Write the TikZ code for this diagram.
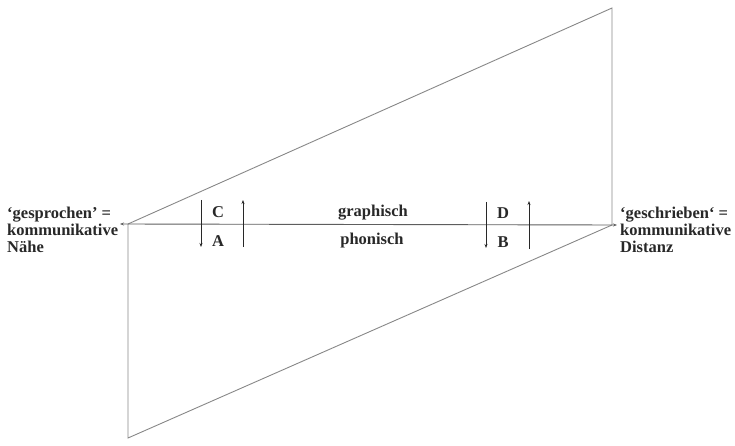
\documentclass[tikz,border=0pt]{standalone}
\usepackage{fontspec}
\setmainfont{Liberation Serif}
\usetikzlibrary{arrows.meta}
\definecolor{linegray}{RGB}{135,135,135}
\definecolor{ink}{RGB}{40,40,40}
\tikzset{
  frame/.style={draw=linegray, line width=0.9pt},
  axis/.style={draw=ink!75, line width=0.9pt, {Stealth[length=4pt,width=3pt]}-{Stealth[length=4pt,width=3pt]}},
  vdown/.style={draw=ink, line width=0.8pt, -{Stealth[length=4pt,width=3pt]}},
  vup/.style={draw=ink, line width=0.8pt, -{Stealth[length=4pt,width=3pt]}},
  lbl/.style={text=ink, font=\fontsize{16.5}{17}\selectfont\bfseries, inner sep=0pt},
  side/.style={lbl, align=left, anchor=west}
}
\begin{document}
\begin{tikzpicture}[x=1pt,y=-1pt]
\useasboundingbox (0,0) rectangle (735,446);
% corners
\coordinate (L) at (128,224);
\coordinate (R) at (612,225);
\coordinate (TR) at (612,8);
\coordinate (BL) at (128,438);
\coordinate (Ltip) at (120,224);
\coordinate (Rtip) at (617,225);
% frame
\draw[frame] (L) -- (TR) -- (R);
\draw[frame] (L) -- (BL) -- (R);
% axis
\draw[axis] (Ltip) -- (Rtip);
% vertical arrows
\coordinate (a1t) at (201,200); \coordinate (a1b) at (201,247);
\coordinate (a2t) at (243,200); \coordinate (a2b) at (243,247);
\coordinate (a3t) at (486,202); \coordinate (a3b) at (486,248);
\coordinate (a4t) at (529,201); \coordinate (a4b) at (529,249);
\draw[vdown] (a1t) -- (a1b);
\draw[vup] (a2b) -- (a2t);
\draw[vdown] (a3t) -- (a3b);
\draw[vup] (a4b) -- (a4t);
% letters
\node[lbl] (C) at (218,212) {C};
\node[lbl] (A) at (218,241) {A};
\node[lbl] (D) at (503,213) {D};
\node[lbl] (B) at (503,242) {B};
\node[lbl] (graph) at (373,213) {graphisch};
\node[lbl] (phon) at (372,241) {phonisch};
% side labels
\node[side] (left) at (7,230) {‘gesprochen’ =\\kommunikative\\Nähe};
\node[side] (right) at (620,230) {‘geschrieben‘ =\\kommunikative\\Distanz};
\end{tikzpicture}
\end{document}
